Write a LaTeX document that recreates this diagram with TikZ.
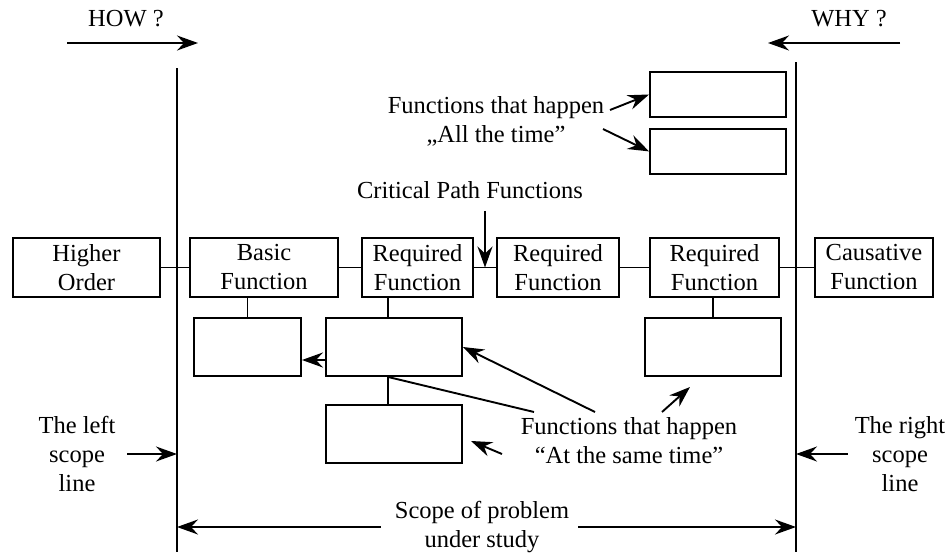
\documentclass[tikz,border=0pt]{standalone}
\usepackage{fontspec}
\setmainfont{Liberation Serif}
\usetikzlibrary{arrows.meta,calc,positioning}
\newcommand{\vafont}{\fontsize{24.5}{29}\selectfont}
\tikzset{every node/.style={font=\vafont}}

\begin{document}
\begin{tikzpicture}[->,>={Stealth[length=21pt,width=15pt,inset=7pt]},x=1pt,y=-1pt,
                    line width=1.9pt]
  \tikzstyle{func}=[rectangle,draw=black,fill=white,align=center,inner sep=0pt,minimum height=59pt]
  \tikzstyle{emptybox}=[rectangle,draw=black,fill=white,inner sep=0pt,minimum width=136pt,minimum height=58pt]
  \tikzstyle{note}=[align=center,inner sep=2pt]

  \useasboundingbox (0,0) rectangle (948,552);

  % scope lines
  \coordinate (lt) at (177,68);
  \coordinate (lb) at (177,552);
  \coordinate (rt) at (796,62);
  \coordinate (rb) at (796,552);
  \draw[-] (lt) -- (lb);
  \draw[-] (rt) -- (rb);

  % critical path
  \node[func,minimum width=147pt] (ho)    at (86.5,267.5)  {Higher\\Order};
  \node[func,minimum width=148pt] (basic) at (264,267.5)   {Basic\\Function};
  \node[func,minimum width=111pt] (req1)  at (417.5,267.5) {Required\\Function};
  \node[func,minimum width=122pt] (req2)  at (558,267.5)   {Required\\Function};
  \node[func,minimum width=129pt] (req3)  at (714.5,267.5) {Required\\Function};
  \node[func,minimum width=118pt] (cause) at (874,267.5)   {Causative\\Function};

  % same time / all the time
  \node[emptybox,minimum width=107pt] (sb1) at (247.5,347) {};
  \node[emptybox] (sb2) at (394,347) {};
  \node[emptybox] (sb3) at (713,347) {};
  \node[emptybox,below=27pt of sb2] (sb4) {};
  \node[emptybox,minimum height=45pt] (top1) at (718,94.5) {};
  \node[emptybox,minimum height=45pt,below=10pt of top1] (top2) {};

  \path[-] (ho) edge (basic)
           (basic) edge (req1)
           (req1) edge (req2)
           (req2) edge (req3)
           (req3) edge (cause);
  \coordinate (sj) at ([xshift=-6pt]sb2.south);
  \coordinate (sk) at ([xshift=-6pt]sb2.north);
  \path[-] (sb1.north) edge (sb1.north |- basic.south)
           (sk) edge (sk |- req1.south)
           (sj) edge (sj |- sb4.north)
           (sb3.north) edge (sb3.north |- req3.south);
  \draw ([yshift=-13pt]sb2.west) -- ([yshift=-13pt]sb1.east);

  % how / why
  \node (how) at (126,19) {HOW ?};
  \node (why) at (849,19) {WHY ?};
  \coordinate (howa) at (67,43);
  \coordinate (howb) at (198,43);
  \coordinate (whya) at (900,43);
  \coordinate (whyb) at (768,43);
  \draw (howa) -- (howb);
  \draw (whya) -- (whyb);

  \node[note] (allt) at (496,121) {Functions that happen\\„All the time”};
  \coordinate (at1) at (610,110);
  \coordinate (at2) at (603,129);
  \draw (at1) -- (top1.west);
  \draw (at2) -- (top2.west);

  \node (crit) at (470,190) {Critical Path Functions};
  \coordinate (cj) at ($(req1.east)!.5!(req2.west)$);
  \coordinate (ct) at ([yshift=-8pt]crit.south);
  \draw (ct -| cj) -- (cj);

  \node[note] (same) at (629,441) {Functions that happen\\“At the same time”};
  \coordinate (s1) at (534,412);
  \coordinate (s2) at (595,412);
  \coordinate (s3) at (662,412);
  \coordinate (s4) at (502,454);
  \coordinate (s3t) at (690,387);
  \coordinate (s4t) at (471,441);
  \draw[-] (s1) -- (sj);
  \draw (s2) -- (sb2.east);
  \draw (s3) -- (s3t);
  \draw (s4) -- (s4t);

  % scope
  \node[note] (lsl) at (77,454) {The left\\scope\\line};
  \node[note] (rsl) at (900,454) {The right\\scope\\line};
  \node[note] (scope) at (482,527) {Scope of problem\\under study};
  \draw ([xshift=9pt]lsl.east) -- (lsl.east -| lt);
  \draw ([xshift=-4pt]rsl.west) -- (rsl.west -| rt);
  \draw ([xshift=-11pt]scope.west) -- (scope.west -| lt);
  \draw ([xshift=6pt]scope.east) -- (scope.east -| rt);

\end{tikzpicture}
\end{document}
